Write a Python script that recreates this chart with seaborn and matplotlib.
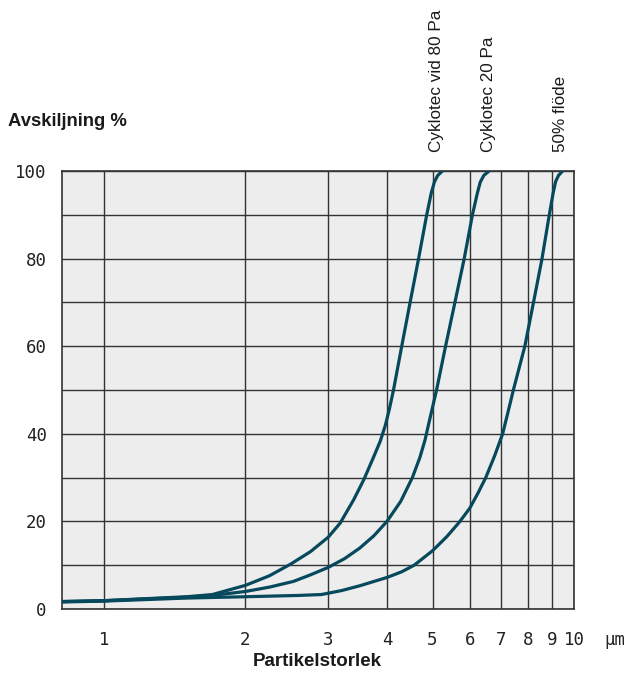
import numpy as np
import pandas as pd
import matplotlib
matplotlib.use("Agg")
import matplotlib.pyplot as plt
import matplotlib.transforms as mtransforms
from matplotlib.ticker import FixedLocator, NullLocator
import seaborn as sns

# ---- data ----
series_names = ["Cyklotec vid 80 Pa", "Cyklotec 20 Pa", "50% flöde"]

x_80pa = [0.815, 1.0, 1.5, 1.7, 2.0, 2.25, 2.5, 2.75, 3.0, 3.18, 3.4, 3.57, 3.75, 3.87, 3.97, 4.05, 4.13,
          4.30, 4.48, 4.67, 4.86, 4.97, 5.05, 5.13, 5.25]
y_80pa = [1.7, 1.9, 2.8, 3.3, 5.4, 7.6, 10.3, 13.1, 16.4, 19.6, 25, 29.5, 34.8, 38.3, 42, 45.8, 50,
          60, 70, 80, 90, 95, 97.6, 99.0, 100]

x_20pa = [0.815, 1.0, 1.5, 1.7, 2.0, 2.25, 2.53, 2.75, 3.0, 3.25, 3.5, 3.75, 4.0, 4.28, 4.53, 4.70, 4.82, 4.92,
          5.10, 5.33, 5.58, 5.84, 6.08, 6.23, 6.32, 6.43, 6.60]
y_20pa = [1.7, 1.9, 2.7, 3.1, 4.0, 5.0, 6.3, 7.8, 9.5, 11.5, 13.9, 16.7, 20, 24.6, 30, 34.6, 38.6, 42.8,
          50, 60, 70, 80, 90, 95, 97.5, 99.0, 100]

x_50 = [0.815, 1.0, 1.5, 2.0, 2.6, 2.9, 3.2, 3.5, 4.0, 4.3, 4.57, 5.0, 5.36, 5.7, 6.0, 6.25, 6.49, 6.78, 7.05, 7.22,
        7.43, 7.86, 8.20, 8.55, 8.86, 9.03, 9.14, 9.27, 9.46]
y_50 = [1.6, 1.8, 2.5, 2.8, 3.1, 3.3, 4.2, 5.3, 7.2, 8.5, 10, 13.3, 16.5, 19.8, 23, 26.5, 30, 35, 40, 44.5,
        50, 60, 70, 80, 90, 95, 97.6, 99.0, 100]

x_ticks = [1, 2, 3, 4, 5, 6, 7, 8, 9, 10]
x_tick_labels = ["1", "2", "3", "4", "5", "6", "7", "8", "9", "10"]
y_ticks = [0, 20, 40, 60, 80, 100]
y_minor = [10, 30, 50, 70, 90]

label_x = [5.1, 6.59, 9.38]   # where the rotated series names sit

# ---- build long table ----
frames = []
for name, xs, ys in zip(series_names, [x_80pa, x_20pa, x_50], [y_80pa, y_20pa, y_50]):
    frames.append(pd.DataFrame({"size": xs, "sep": ys, "serie": name}))
df = pd.concat(frames, ignore_index=True)

sns.set_style("white")
plt.rcParams["font.family"] = ["Liberation Sans", "DejaVu Sans"]

W, H = 628, 675
fig = plt.figure(figsize=(W / 100, H / 100), dpi=100)
L, R, T, B = 62, 574, 171, 609
ax = fig.add_axes([L / W, 1 - B / H, (R - L) / W, (B - T) / H])
ax.set_facecolor("#ededed")

line_color = "#06485c"
grid_color = "#333333"

sns.lineplot(data=df, x="size", y="sep", hue="serie", units="serie", estimator=None,
             palette=[line_color] * 3, linewidth=2.3, legend=False, sort=False, ax=ax, zorder=5)
for ln in ax.get_lines():
    ln.set_solid_joinstyle("round")
    ln.set_solid_capstyle("round")

ax.set_xscale("log")
ax.set_xlim(0.814, 10)
ax.set_ylim(0, 100)

ax.xaxis.set_major_locator(FixedLocator(x_ticks))
ax.xaxis.set_minor_locator(NullLocator())
ax.set_xticklabels(x_tick_labels)
ax.yaxis.set_major_locator(FixedLocator(y_ticks))
ax.yaxis.set_minor_locator(FixedLocator(y_minor))

ax.grid(True, which="major", axis="both", color=grid_color, linewidth=1.0)
ax.grid(True, which="minor", axis="y", color=grid_color, linewidth=1.0)
ax.set_axisbelow(True)

mono = "DejaVu Sans Mono"
ax.tick_params(axis="both", which="major", direction="out", length=5, width=1.0,
               color=grid_color, labelsize=12.5, labelcolor="#222222")
ax.tick_params(axis="x", which="major", pad=11)
ax.tick_params(axis="y", which="major", pad=6)
ax.tick_params(axis="y", which="minor", length=0)
for lab in ax.get_xticklabels() + ax.get_yticklabels():
    lab.set_family(mono)

for s in ax.spines.values():
    s.set_color(grid_color)
    s.set_linewidth(1.2)

ax.set_xlabel("")
ax.set_ylabel("")

# series names above the plot
trans = mtransforms.blended_transform_factory(ax.transData, ax.transAxes)
for xp, name in zip(label_x, series_names):
    ax.text(xp, 1.043, name, rotation=90, ha="center", va="bottom", transform=trans,
            fontsize=12.3, color="#1a1a1a")

fig.text(8 / W, 1 - 122 / H, "Avskiljning %", ha="left", va="center",
         fontsize=13.3, fontweight="bold", color="#1a1a1a")
fig.text(317 / W, 1 - 662 / H, "Partikelstorlek", ha="center", va="center",
         fontsize=13.5, fontweight="bold", color="#1a1a1a")
fig.text(604 / W, 1 - 640 / H, "µm", ha="left", va="center", fontsize=12.5,
         family=mono, color="#222222")

fig.savefig("out.png", dpi=100)
